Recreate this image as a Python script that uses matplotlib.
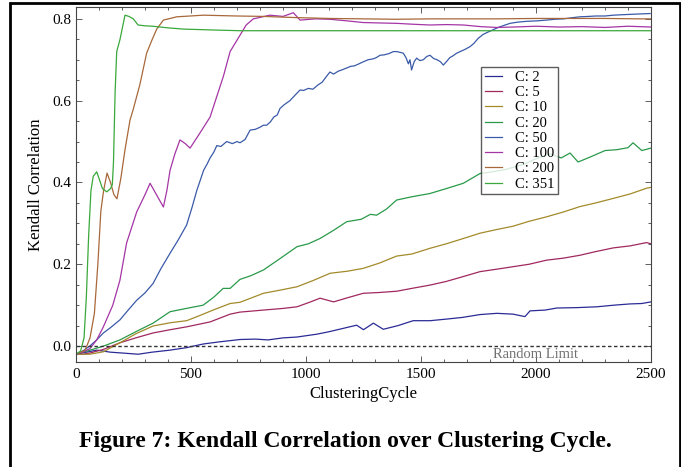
import matplotlib
matplotlib.use("Agg")
import matplotlib.pyplot as plt
from matplotlib.patches import Rectangle
from matplotlib.ticker import MultipleLocator, FormatStrFormatter

# ---------------- data ----------------
labels = ["C: 2", "C: 5", "C: 10", "C: 20", "C: 50", "C: 100", "C: 200", "C: 351"]

c2_x = [0, 90, 150, 200, 270, 330, 409, 480, 553, 620, 713, 780, 835, 900, 960, 1047, 1100, 1160, 1220, 1250,
        1293, 1336, 1400, 1466, 1540, 1612, 1680, 1757, 1830, 1900, 1952, 1974, 2040, 2091, 2180, 2265, 2340,
        2409, 2460, 2500]
c2_y = [-0.02, -0.01, -0.015, -0.017, -0.02, -0.015, -0.01, -0.004, 0.005, 0.01, 0.016, 0.017, 0.015, 0.02,
        0.022, 0.029, 0.035, 0.043, 0.051, 0.04, 0.056, 0.041, 0.05, 0.062, 0.062, 0.066, 0.07, 0.077, 0.08,
        0.078, 0.072, 0.086, 0.088, 0.093, 0.094, 0.096, 0.1, 0.103, 0.104, 0.108]

c5_x = [0, 30, 61, 120, 191, 260, 335, 410, 481, 583, 670, 713, 815, 900, 961, 1020, 1061, 1120, 1180, 1249,
        1320, 1394, 1460, 1539, 1610, 1684, 1757, 1830, 1900, 1970, 2046, 2120, 2191, 2260, 2336, 2410, 2481,
        2500]
c5_y = [-0.02, -0.02, -0.017, -0.008, 0.008, 0.02, 0.032, 0.04, 0.047, 0.059, 0.078, 0.083, 0.088, 0.092,
        0.096, 0.108, 0.117, 0.108, 0.118, 0.129, 0.131, 0.134, 0.141, 0.149, 0.158, 0.17, 0.182, 0.188, 0.194,
        0.2, 0.21, 0.215, 0.222, 0.231, 0.24, 0.245, 0.253, 0.25]

c10_x = [0, 60, 119, 191, 260, 335, 410, 481, 540, 596, 670, 713, 815, 890, 961, 1030, 1105, 1180, 1249, 1320,
         1394, 1460, 1539, 1610, 1684, 1757, 1830, 1900, 1970, 2046, 2120, 2191, 2260, 2336, 2410, 2481, 2500]
c10_y = [-0.02, -0.02, -0.014, 0.008, 0.03, 0.049, 0.057, 0.062, 0.075, 0.088, 0.104, 0.107, 0.129, 0.137,
         0.145, 0.16, 0.178, 0.183, 0.19, 0.203, 0.22, 0.225, 0.239, 0.25, 0.263, 0.276, 0.285, 0.293, 0.305,
         0.316, 0.328, 0.341, 0.35, 0.361, 0.372, 0.386, 0.388]

c20_x = [0, 61, 120, 191, 260, 335, 409, 480, 553, 600, 640, 670, 713, 760, 815, 890, 961, 1010, 1061, 1120,
         1177, 1240, 1280, 1307, 1350, 1394, 1460, 1539, 1610, 1684, 1757, 1800, 1870, 1950, 2000, 2061, 2110,
         2148, 2183, 2235, 2300, 2350, 2400, 2422, 2460, 2500]
c20_y = [-0.02, -0.01, 0.0, 0.015, 0.035, 0.056, 0.084, 0.092, 0.1, 0.12, 0.141, 0.141, 0.163, 0.172, 0.186,
         0.215, 0.243, 0.25, 0.263, 0.283, 0.304, 0.31, 0.322, 0.32, 0.335, 0.357, 0.365, 0.373, 0.385, 0.398,
         0.422, 0.425, 0.432, 0.445, 0.458, 0.47, 0.46, 0.472, 0.45, 0.462, 0.478, 0.48, 0.485, 0.497, 0.478,
         0.484]

c50_x = [0, 30, 60, 90, 119, 150, 191, 230, 264, 300,
         335, 370, 409, 445, 481, 505, 525, 540, 555, 570,
         583, 600, 612, 630, 655, 680, 700, 713, 735, 757,
         780, 800, 815, 829, 845, 860, 875, 887, 905, 930,
         950, 974, 990, 1010, 1030, 1051, 1070, 1090, 1104, 1120,
         1140, 1160, 1177, 1195, 1210, 1230, 1249, 1270, 1290, 1305,
         1322, 1340, 1360, 1380, 1394, 1410, 1423, 1435, 1445, 1452,
         1459, 1470, 1481, 1495, 1510, 1525, 1539, 1555, 1570, 1585,
         1597, 1610, 1625, 1640, 1655, 1670, 1690, 1713, 1730, 1748,
         1770, 1800, 1840, 1887, 1920, 1960, 2000, 2046, 2080, 2120,
         2160, 2191, 2230, 2260, 2300, 2336, 2370, 2410, 2450, 2496]
c50_y = [-0.02, -0.012, 0.0, 0.015, 0.032, 0.045, 0.064, 0.09, 0.112, 0.13,
         0.153, 0.19, 0.227, 0.26, 0.296, 0.34, 0.38, 0.405, 0.43, 0.445,
         0.46, 0.475, 0.49, 0.488, 0.5, 0.495, 0.5, 0.497, 0.505, 0.528,
         0.53, 0.535, 0.54, 0.54, 0.548, 0.56, 0.565, 0.581, 0.59, 0.6,
         0.612, 0.626, 0.625, 0.63, 0.628, 0.638, 0.645, 0.66, 0.67, 0.665,
         0.672, 0.676, 0.68, 0.684, 0.685, 0.69, 0.695, 0.7, 0.702, 0.705,
         0.711, 0.712, 0.715, 0.72, 0.72, 0.718, 0.716, 0.705, 0.69, 0.7,
         0.675, 0.695, 0.704, 0.698, 0.7, 0.708, 0.711, 0.703, 0.7, 0.695,
         0.687, 0.695, 0.705, 0.71, 0.716, 0.72, 0.725, 0.732, 0.74, 0.752,
         0.762, 0.77, 0.78, 0.789, 0.792, 0.794, 0.795, 0.797, 0.799, 0.8,
         0.803, 0.805, 0.806, 0.807, 0.807, 0.809, 0.81, 0.811, 0.812, 0.813]

c100_x = [0, 30, 61, 90, 119, 160, 191, 220, 264, 300, 322, 351, 380, 395, 409, 430, 452, 475, 496, 539, 583,
          641, 670, 713, 740, 771, 843, 900, 945, 974, 1040, 1104, 1180, 1249, 1320, 1394, 1460, 1539, 1610,
          1684, 1760, 1829, 1900, 2000, 2100, 2200, 2300, 2400, 2500]
c100_y = [-0.02, -0.015, -0.006, 0.015, 0.047, 0.1, 0.161, 0.252, 0.328, 0.37, 0.398, 0.369, 0.34, 0.38, 0.43,
          0.47, 0.504, 0.495, 0.484, 0.521, 0.56, 0.66, 0.72, 0.76, 0.785, 0.8, 0.809, 0.806, 0.815, 0.797,
          0.8, 0.799, 0.795, 0.791, 0.79, 0.789, 0.787, 0.785, 0.786, 0.785, 0.781, 0.779, 0.78, 0.782, 0.78,
          0.781, 0.779, 0.782, 0.78]

c200_x = [0, 40, 61, 80, 95, 108, 120, 135, 150, 165, 178, 195, 213, 235, 248, 278, 307, 330, 351, 380, 438,
          554, 699, 814, 960, 1104, 1250, 1394, 1540, 1684, 1830, 2000, 2150, 2300, 2450, 2500]
c200_y = [-0.02, -0.01, 0.02, 0.08, 0.2, 0.33, 0.38, 0.423, 0.4, 0.37, 0.36, 0.41, 0.48, 0.553, 0.577, 0.64,
          0.716, 0.748, 0.775, 0.797, 0.805, 0.809, 0.807, 0.806, 0.803, 0.801, 0.8, 0.799, 0.8, 0.8, 0.8,
          0.801, 0.801, 0.801, 0.8, 0.8]

c351_x = [0, 20, 35, 45, 55, 65, 75, 90, 100, 115, 134, 150, 158, 163, 170, 177, 191, 213, 230, 249, 270, 300,
          333, 400, 467, 583, 713, 900, 1200, 1500, 1800, 2100, 2500]
c351_y = [-0.02, -0.012, 0.02, 0.12, 0.27, 0.38, 0.415, 0.426, 0.41, 0.385, 0.377, 0.385, 0.395, 0.45, 0.62,
          0.72, 0.749, 0.809, 0.806, 0.8, 0.785, 0.783, 0.782, 0.778, 0.775, 0.773, 0.771, 0.771, 0.771, 0.771,
          0.771, 0.771, 0.771]

series_x = [c2_x, c5_x, c10_x, c20_x, c50_x, c100_x, c200_x, c351_x]
series_y = [c2_y, c5_y, c10_y, c20_y, c50_y, c100_y, c200_y, c351_y]
colors = ["#2b2b96", "#a0285f", "#a38a2a", "#2a9a4a", "#3a5aa8", "#a535a5", "#a8683a", "#3aa83a"]

x_ticks = [0, 500, 1000, 1500, 2000, 2500]
y_ticks = [0.0, 0.2, 0.4, 0.6, 0.8]

# ---------------- figure ----------------
plt.rcParams['font.family'] = ['Liberation Serif', 'DejaVu Serif']
fig = plt.figure(figsize=(6.81, 4.67), dpi=100)
ax = fig.add_axes([76 / 681, 105 / 467, 575 / 681, 355 / 467])

for xs, ys, col, lab in zip(series_x, series_y, colors, labels):
    ax.plot(xs, ys, color=col, lw=0.9, label=lab)

ax.axhline(0.0, color="#333333", lw=1.0, ls=(0, (2.5, 1.8)))
ax.text(1996, -0.021, "Random Limit", color="#707070", fontsize=10.5, ha="center", va="center")

ax.set_xlim(0, 2500)
ax.set_ylim(-0.039, 0.829)
ax.set_xticks(x_ticks)
ax.set_yticks(y_ticks)
ax.xaxis.set_minor_locator(MultipleLocator(100))
ax.yaxis.set_minor_locator(MultipleLocator(0.05))
ax.yaxis.set_major_formatter(FormatStrFormatter('%.1f'))
ax.tick_params(which='both', direction='in', top=True, right=True, labelsize=11, color='#444444', width=0.6)
ax.tick_params(which='major', length=4.5)
ax.tick_params(which='minor', length=2.5)
ax.tick_params(axis='x', pad=4)
ax.tick_params(axis='y', pad=3)
for sp in ax.spines.values():
    sp.set_color('#444444')
    sp.set_linewidth(0.8)

ax.set_xlabel("ClusteringCycle", fontsize=12, labelpad=4)
ax.set_ylabel("Kendall Correlation", fontsize=12, labelpad=6)

leg = ax.legend(loc='upper left', bbox_to_anchor=((481 - 76) / 575, (362 - 67) / 355), fontsize=10.5,
                frameon=True, fancybox=False, handlelength=1.2, handletextpad=0.9, labelspacing=0.14,
                borderpad=0.25, borderaxespad=0.0)
leg.get_frame().set_edgecolor('#333333')
leg.get_frame().set_linewidth(1.0)

fig.text(345 / 681, 1 - 441 / 467, "Figure 7: Kendall Correlation over Clustering Cycle.",
         fontsize=17, fontweight='bold', ha='center', va='center')

fig.patches.append(Rectangle((10 / 681, -0.1), 670 / 681, 1.1 - 3 / 467, transform=fig.transFigure,
                             fill=False, edgecolor='black', lw=2.0, clip_on=False))

fig.savefig("out.png", dpi=100)
